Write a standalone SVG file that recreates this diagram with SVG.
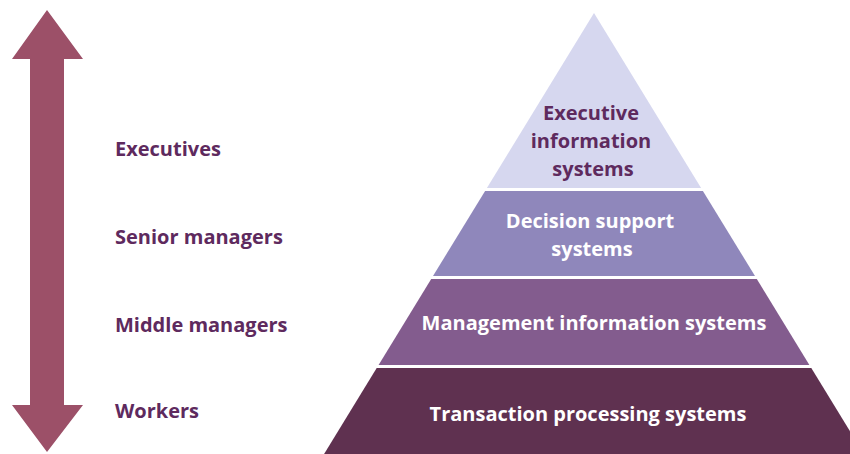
<svg xmlns="http://www.w3.org/2000/svg" width="850" height="454" viewBox="0 0 850 454">
<style>
.lbl{font-family:"Open Sans","Liberation Sans",sans-serif;font-weight:bold;font-size:20px;fill:#5e2a5e}
.in{font-family:"Open Sans","Liberation Sans",sans-serif;font-weight:bold;font-size:20px;fill:#ffffff;text-anchor:middle}
.dk{fill:#5e2a5e}
</style>
<rect width="850" height="454" fill="#ffffff"/>
<g id="arrow">
<polygon points="47,10 83,59 64,59 64,405 83,405 47,452 12,405 30,405 30,59 12,59" fill="#9c5068"/>
</g>
<g id="labels">
<text class="lbl" x="115" y="156">Executives</text>
<text class="lbl" x="115" y="244">Senior managers</text>
<text class="lbl" x="115" y="332">Middle managers</text>
<text class="lbl" x="115" y="418">Workers</text>
</g>
<g id="eis">
<polygon points="594,13 701.1,188 486.9,188" fill="#d6d7ef"/>
<text class="in dk" x="591" y="120">Executive</text>
<text class="in dk" x="591" y="148">information</text>
<text class="in dk" x="593" y="176">systems</text>
</g>
<g id="dss">
<polygon points="485.1,191 702.9,191 755,276 433,276" fill="#8f87bb"/>
<text class="in" x="590" y="228">Decision support</text>
<text class="in" x="592" y="256">systems</text>
</g>
<g id="mis">
<polygon points="431.2,279 756.8,279 809.4,365 378.6,365" fill="#835c8e"/>
<text class="in" x="594" y="330">Management information systems</text>
</g>
<g id="tps">
<polygon points="376.7,368 811.3,368 863.9,454 324.1,454" fill="#5f3150"/>
<text class="in" x="588" y="421">Transaction processing systems</text>
</g>
<g id="connectors"></g>
</svg>
